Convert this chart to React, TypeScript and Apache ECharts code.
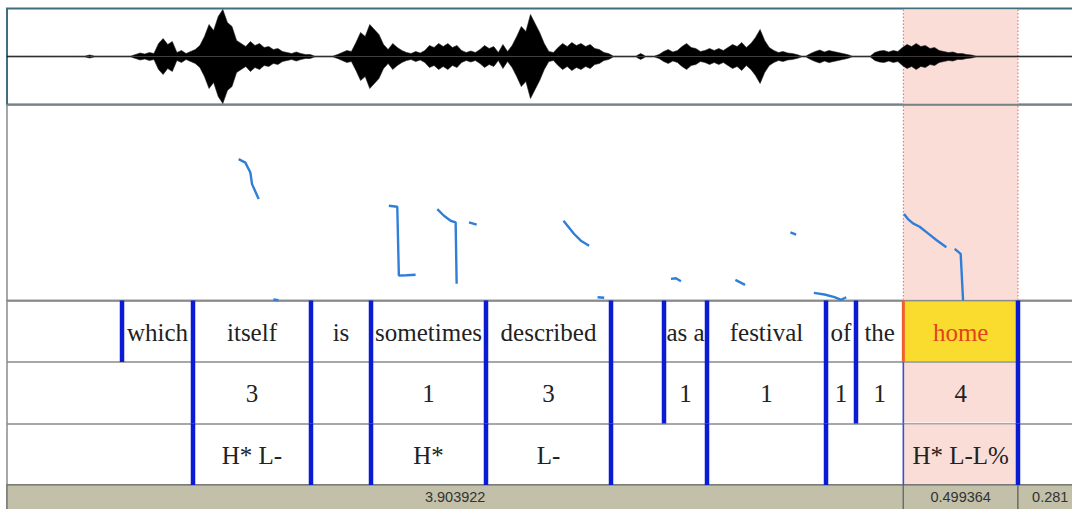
import { useEffect, useRef } from "react";
import * as echarts from "echarts";

// Time layout of the visible window (seconds)
const PX_PER_SEC = 229.6;
const SEL_START = 3.903922;
const SEL_END = 4.403286;
const TAIL = 0.281;
const T_END = SEL_END + TAIL;

// Duration read-outs in the bottom bar
const barDurations = [3.903922, 0.499364, 0.281];
const barDigits = [6, 6, 3];

// Waveform amplitude envelope, one sample every WAVE_STEP seconds
const WAVE_STEP = 0.02;
const waveEnvelope = [
  0.5, 0.5, 0.5, 0.5, 0.5, 0.5, 0.5, 0.5, 0.5, 0.5,
  0.5, 0.5, 0.5, 0.5, 0.5, 0.5, 0.5, 0.5, 1.5, 0.5,
  0.5, 0.5, 0.5, 0.5, 0.5, 0.5, 0.5, 0.5, 2, 3.5,
  2.5, 4, 3, 13, 18, 12, 15, 4, 6, 3,
  5, 7, 11, 20, 32, 26, 40, 47, 34, 30,
  16, 13, 10, 15, 11, 13, 9, 10, 7, 8,
  5, 4, 3, 4.5, 3, 2, 2, 0.5, 0.5, 0.5,
  0.5, 0.5, 2, 4, 6, 5, 14, 24, 20, 32,
  27, 22, 12, 7, 13, 9, 6, 4, 3, 5,
  3.5, 6, 11, 9, 13, 10, 13, 9, 11, 6,
  4, 5.5, 4, 7, 11, 8, 10, 4, 12, 5,
  11, 20, 30, 25, 42, 33, 24, 13, 5, 4,
  9, 13, 10, 14, 11, 13, 10, 12, 8, 7,
  4, 3, 0.5, 0.5, 0.5, 0.5, 0.5, 0.5, 3, 0.5,
  0.5, 0.5, 2, 5, 7, 4.5, 6, 10, 13, 9,
  8, 5, 6, 8, 6, 8, 6, 9, 12, 10,
  14, 9, 13, 19, 27, 16, 9, 6, 4, 5,
  3.5, 3, 2, 0.5, 0.5, 3, 5, 6.5, 4.5, 6,
  5, 4, 3, 2, 0.5, 0.5, 0.5, 0.5, 0.5, 4,
  5.5, 6, 4.5, 6, 5, 9, 12, 10, 13, 10,
  11, 8, 9, 6, 5, 4, 4.5, 3, 3, 2,
  1.5, 0.5, 0.5, 0.5, 0.5, 0.5, 0.5, 0.5, 0.5, 0.5,
  0.5, 0.5, 0.5, 0.5, 0.5, 0.5, 0.5, 0.5, 0.5, 0.5,
  0.5, 0.5, 0.5, 0.5, 0.5,
];

// Pitch track (time s, F0 Hz); each inner list is one voiced stretch
const PITCH_MIN = 75;
const PITCH_MAX = 500;
const pitchSegments: number[][][] = [
  [[1.0089, 382.2], [1.0381, 374.8], [1.0599, 353.2], [1.0673, 328.0], [1.0961, 295.5]],
  [[1.1602, 77.2], [1.182, 75.5]],
  [[1.6631, 281.0], [1.6998, 278.8], [1.7067, 129.2], [1.74, 130.0], [1.7796, 131.0]],
  [[1.8742, 273.8], [1.903, 259.3], [1.9322, 248.4], [1.954, 244.8], [1.9584, 111.2]],
  [[2.0121, 244.8], [2.0456, 239.8]],
  [[2.4238, 248.4], [2.4701, 219.6], [2.4993, 205.1], [2.5355, 194.2]],
  [[2.5721, 82.2], [2.6009, 80.9]],
  [[2.8918, 122.0], [2.9136, 123.3], [2.9354, 116.8]],
  [[3.1723, 119.9], [3.2146, 109.0]],
  [[3.4122, 223.1], [3.437, 218.1]],
  [[3.5142, 91.7], [3.5605, 88.0], [3.6041, 82.2], [3.6333, 76.5], [3.6551, 82.2]],
  [[3.9068, 263.0], [3.9242, 252.1], [3.946, 242.6], [3.9749, 235.4], [4.0115, 220.9], [4.0477, 206.6], [4.0913, 190.6]],
  [[4.1275, 187.1], [4.1537, 176.2], [4.1641, 75.0]],
];

// Tier 1: words
const wordBounds = [0.5009, 0.8101, 1.324, 1.5854, 2.0862, 2.6307, 2.8615, 3.0488, 3.5671, 3.6977, SEL_START, SEL_END];
const wordLabels = ["", "which", "itself", "is", "sometimes", "described", "", "as a", "festival", "of", "the", "home", ""];
// Tier 2: break indices
const breakBounds = [0.8101, 1.324, 1.5854, 2.0862, 2.6307, 2.8615, 3.0488, 3.5671, 3.6977, SEL_START, SEL_END];
const breakLabels = ["", "3", "", "1", "3", "", "1", "1", "1", "1", "4", ""];
// Tier 3: tones
const toneBounds = [0.8101, 1.324, 1.5854, 2.0862, 2.6307, 3.0488, 3.5671, SEL_START, SEL_END];
const toneLabels = ["", "H* L-", "", "H*", "L-", "", "", "", "H* L-L%", ""];

const tiers = [
  { bounds: wordBounds, labels: wordLabels },
  { bounds: breakBounds, labels: breakLabels },
  { bounds: toneBounds, labels: toneLabels },
];

type Cell = { start: number; end: number; tier: number; text: string };
type Bound = { t: number; tier: number };

const cells: Cell[] = [];
const boundaries: Bound[] = [];
tiers.forEach((tier, ti) => {
  const edges = [0, ...tier.bounds, T_END];
  tier.labels.forEach((text, i) => {
    cells.push({ start: edges[i], end: edges[i + 1], tier: ti, text });
  });
  tier.bounds.forEach((t) => boundaries.push({ t, tier: ti }));
});

const SERIF = '"Liberation Serif", "Times New Roman", serif';
const SANS = '"Liberation Sans", Arial, sans-serif';
const BLUE = "#0b1bd4";
const PINK = "#fbddd8";

function selectionSeries(axisIndex: number) {
  return {
    type: "custom",
    xAxisIndex: axisIndex,
    yAxisIndex: axisIndex,
    z: 1,
    silent: true,
    data: [[SEL_START, SEL_END]],
    renderItem: (params: any, api: any) => {
      const cs = params.coordSys;
      const xa = api.coord([api.value(0), 0])[0];
      const xb = api.coord([api.value(1), 0])[0];
      const top = cs.y + 1;
      const bottom = cs.y + cs.height - 1;
      const dashed = { stroke: "#e06a6a", lineWidth: 1, lineDash: [1.5, 2] };
      return {
        type: "group",
        children: [
          { type: "rect", shape: { x: xa, y: top, width: xb - xa, height: bottom - top }, style: { fill: PINK } },
          { type: "line", shape: { x1: xa, y1: top, x2: xa, y2: bottom }, style: dashed },
          { type: "line", shape: { x1: xb, y1: top, x2: xb, y2: bottom }, style: dashed },
        ],
      };
    },
  };
}

export default function App() {
  const ref = useRef<HTMLDivElement>(null);

  useEffect(() => {
    if (!ref.current) return;
    const chart = echarts.init(ref.current, undefined, { renderer: "svg" });
    const plotWidth = T_END * PX_PER_SEC;

    const upper = waveEnvelope.map((a, i) => [i * WAVE_STEP, a]);
    const lower = waveEnvelope.map((a, i) => [i * WAVE_STEP, -a]);

    const hiddenX = (gridIndex: number) => ({
      type: "value",
      gridIndex,
      min: 0,
      max: T_END,
      show: false,
    });
    const hiddenY = (gridIndex: number, min: number, max: number) => ({
      type: "value",
      gridIndex,
      min,
      max,
      show: false,
    });

    const grayBorder = { show: true, borderColor: "#8a8a8a", borderWidth: 1.5, backgroundColor: "transparent" };

    const waveLine = {
      type: "line",
      xAxisIndex: 0,
      yAxisIndex: 0,
      symbol: "none",
      silent: true,
      z: 3,
      lineStyle: { color: "#222", width: 0.6 },
      areaStyle: { color: "#000", opacity: 1 },
    };

    const pitchSeries = pitchSegments.map((seg) => ({
      type: "line",
      xAxisIndex: 1,
      yAxisIndex: 1,
      symbol: "none",
      silent: true,
      z: 3,
      data: seg,
      lineStyle: { color: "#2f7fd8", width: 2.4 },
    }));

    chart.setOption({
      animation: false,
      backgroundColor: "#ffffff",
      grid: [
        { left: 7, top: 8.5, width: plotWidth, height: 96, show: true, borderColor: "#3f6f7d", borderWidth: 2, backgroundColor: "transparent", outerBoundsMode: "none" },
        { left: 7, top: 105, width: plotWidth, height: 195.5, ...grayBorder, outerBoundsMode: "none" },
        { left: 7, top: 300.5, width: plotWidth, height: 184.5, ...grayBorder, outerBoundsMode: "none" },
        { left: 7, top: 485, width: plotWidth, height: 26, ...grayBorder, outerBoundsMode: "none" },
      ],
      xAxis: [hiddenX(0), hiddenX(1), hiddenX(2), hiddenX(3)],
      yAxis: [
        hiddenY(0, -48, 48),
        hiddenY(1, PITCH_MIN, PITCH_MAX),
        {
          type: "value",
          gridIndex: 2,
          min: 0,
          max: 3,
          interval: 1,
          inverse: true,
          axisLine: { show: false },
          axisTick: { show: false },
          axisLabel: { show: false },
          splitLine: { show: true, lineStyle: { color: "#8a8a8a", width: 1.5 } },
        },
        hiddenY(3, 0, 1),
      ],
      series: [
        selectionSeries(0),
        selectionSeries(1),
        { ...waveLine, data: upper },
        { ...waveLine, data: lower },
        ...pitchSeries,
        // Tier intervals with their labels
        {
          type: "custom",
          xAxisIndex: 2,
          yAxisIndex: 2,
          z: 1,
          silent: true,
          data: cells.map((c) => [c.start, c.end, c.tier]),
          renderItem: (params: any, api: any) => {
            const cell = cells[params.dataIndex];
            const p0 = api.coord([api.value(0), api.value(2)]);
            const p1 = api.coord([api.value(1), api.value(2) + 1]);
            const selected = cell.start === SEL_START;
            const children: any[] = [];
            if (selected) {
              children.push({
                type: "rect",
                shape: { x: p0[0], y: p0[1] + 1, width: p1[0] - p0[0], height: p1[1] - p0[1] - 2 },
                style: { fill: cell.tier === 0 ? "#f9dc2e" : PINK },
              });
            }
            if (cell.text) {
              children.push({
                type: "text",
                x: (p0[0] + Math.min(p1[0], 1072)) / 2,
                y: (p0[1] + p1[1]) / 2 + 1,
                style: {
                  text: cell.text,
                  fill: selected && cell.tier === 0 ? "#e2431d" : "#222",
                  fontSize: 25,
                  fontFamily: SERIF,
                  align: "center",
                  verticalAlign: "middle",
                },
              });
            }
            return { type: "group", children };
          },
        },
        // Interval boundaries
        {
          type: "custom",
          xAxisIndex: 2,
          yAxisIndex: 2,
          z: 4,
          silent: true,
          data: boundaries.map((b) => [b.t, b.tier]),
          renderItem: (params: any, api: any) => {
            const t = api.value(0);
            const tier = api.value(1);
            const top = api.coord([t, tier]);
            const bottom = api.coord([t, tier + 1]);
            let width = 4.5;
            let color = BLUE;
            if (t === SEL_START) {
              width = tier === 0 ? 3 : 1.6;
              color = tier === 0 ? "#f0602a" : "#3a4fd0";
            }
            return {
              type: "rect",
              shape: { x: top[0] - width / 2, y: top[1], width, height: bottom[1] - top[1] },
              style: { fill: color },
            };
          },
        },
        // Bottom duration bar
        {
          type: "custom",
          xAxisIndex: 3,
          yAxisIndex: 3,
          z: 1,
          silent: true,
          data: barDurations.map((d, i) => {
            const start = barDurations.slice(0, i).reduce((s, v) => s + v, 0);
            return [start, start + d];
          }),
          renderItem: (params: any, api: any) => {
            const cs = params.coordSys;
            const xa = api.coord([api.value(0), 0])[0];
            const xb = api.coord([api.value(1), 0])[0];
            const i = params.dataIndex;
            return {
              type: "group",
              children: [
                {
                  type: "rect",
                  shape: { x: xa, y: cs.y, width: xb - xa, height: cs.height },
                  style: { fill: "#c2c0a8", stroke: "#6a6a62", lineWidth: 1.2 },
                },
                {
                  type: "text",
                  x: (xa + xb) / 2,
                  y: cs.y + 11.5,
                  style: {
                    text: barDurations[i].toFixed(barDigits[i]),
                    fill: "#333",
                    fontSize: 14.5,
                    fontFamily: SANS,
                    align: "center",
                    verticalAlign: "middle",
                  },
                },
              ],
            };
          },
        },
      ],
    });

    return () => chart.dispose();
  }, []);

  return (
    <div
      ref={ref}
      style={{ position: "fixed", left: 0, top: 0, width: 1072, height: 509, background: "#fff" }}
    />
  );
}
